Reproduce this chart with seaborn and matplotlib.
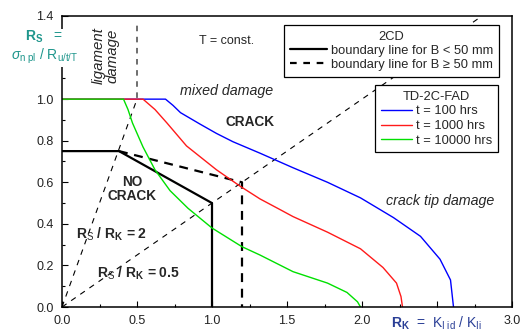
import matplotlib
matplotlib.use("Agg")
import matplotlib.pyplot as plt
from matplotlib.lines import Line2D
from matplotlib.ticker import MultipleLocator
import seaborn as sns

# TD-2C-FAD curves (R_K, R_S)
rk_100 = [0.0, 0.69, 0.74, 0.79, 0.92, 1.03, 1.14, 1.32, 1.54, 1.77, 1.99, 2.21, 2.39, 2.52, 2.59, 2.61]
rs_100 = [1.0, 1.0, 0.97, 0.935, 0.88, 0.835, 0.795, 0.74, 0.67, 0.60, 0.525, 0.43, 0.34, 0.23, 0.13, 0.0]

rk_1000 = [0.0, 0.54, 0.62, 0.70, 0.83, 1.03, 1.12, 1.19, 1.32, 1.45, 1.54, 1.77, 1.99, 2.14, 2.23, 2.26, 2.27]
rs_1000 = [1.0, 1.0, 0.95, 0.885, 0.775, 0.66, 0.615, 0.58, 0.52, 0.47, 0.435, 0.36, 0.28, 0.19, 0.115, 0.05, 0.0]

rk_10000 = [0.0, 0.41, 0.44, 0.47, 0.54, 0.62, 0.72, 0.84, 1.0, 1.2, 1.32, 1.54, 1.77, 1.90, 1.97, 1.99]
rs_10000 = [1.0, 1.0, 0.95, 0.885, 0.77, 0.66, 0.56, 0.475, 0.38, 0.29, 0.25, 0.17, 0.115, 0.07, 0.025, 0.0]

# 2CD boundary lines
rk_small = [0.0, 0.38, 1.0, 1.0]
rs_small = [0.75, 0.75, 0.5, 0.0]
rk_large = [0.38, 1.2, 1.2]
rs_large = [0.75, 0.6, 0.0]

# ratio lines R_S / R_K
rk_ratio2 = [0.0, 0.5, 0.5]
rs_ratio2 = [0.0, 1.0, 1.36]
rk_ratio05 = [0.0, 2.8]
rs_ratio05 = [0.0, 1.4]

x_ticks = [0.0, 0.5, 1.0, 1.5, 2.0, 2.5, 3.0]
x_labels = ["0.0", "0.5", "1.0", "1.5", "2.0", "", "3.0"]
y_ticks = [0.0, 0.2, 0.4, 0.6, 0.8, 1.0, 1.2, 1.4]
y_labels = ["0.0", "0.2", "0.4", "0.6", "0.8", "1.0", "", "1.4"]

sns.set_theme(style="ticks")
plt.rcParams["font.family"] = ["Liberation Sans", "DejaVu Sans"]
plt.rcParams["mathtext.fontset"] = "custom"
plt.rcParams["mathtext.rm"] = "Liberation Sans"
plt.rcParams["mathtext.bf"] = "Liberation Sans:bold"
plt.rcParams["mathtext.it"] = "Liberation Sans:italic"

fig = plt.figure(figsize=(5.22, 3.33), dpi=100)
ax = fig.add_axes([62 / 522, 26 / 333, 450 / 522, 291 / 333])

fs = 9
leg_fs = 9.3

# ratio lines
ax.plot(rk_ratio2, rs_ratio2, color="black", lw=0.8, dashes=(5, 5))
ax.plot(rk_ratio05, rs_ratio05, color="black", lw=0.8, dashes=(5, 5))

# boundary lines
ax.plot(rk_small, rs_small, color="black", lw=1.6)
ax.plot(rk_large, rs_large, color="black", lw=1.6, dashes=(4, 3))

# FAD curves
sns.lineplot(x=rk_100, y=rs_100, color="#0000ff", lw=1.0, sort=False, estimator=None, ax=ax)
sns.lineplot(x=rk_1000, y=rs_1000, color="#ff1a1a", lw=1.0, sort=False, estimator=None, ax=ax)
sns.lineplot(x=rk_10000, y=rs_10000, color="#00e000", lw=1.0, sort=False, estimator=None, ax=ax)

ax.set_xlim(0, 3.0)
ax.set_ylim(0, 1.4)
ax.set_xticks(x_ticks)
ax.set_xticklabels(x_labels)
ax.set_yticks(y_ticks)
ax.set_yticklabels(y_labels)
ax.xaxis.set_minor_locator(MultipleLocator(0.25))
ax.yaxis.set_minor_locator(MultipleLocator(0.1))
ax.tick_params(which="both", direction="in", width=0.8, colors="black", labelcolor="#222222",
               labelsize=fs, pad=6)
ax.tick_params(which="major", length=4)
ax.tick_params(which="minor", length=2.5)
for sp in ax.spines.values():
    sp.set_color("black")
    sp.set_linewidth(1.1)
ax.set_xlabel("")
ax.set_ylabel("")

# legends
h1 = [Line2D([], [], color="black", lw=1.6),
      Line2D([], [], color="black", lw=1.6, dashes=(3, 3))]
leg1 = ax.legend(h1, ["boundary line for B < 50 mm", "boundary line for B \u2265 50 mm"],
                 title="2CD", loc="upper right", bbox_to_anchor=(0.971, 0.969),
                 fontsize=leg_fs, title_fontsize=leg_fs, frameon=True, fancybox=False,
                 edgecolor="black", framealpha=1, handlelength=2.9, handletextpad=0.3,
                 labelspacing=0.15, borderpad=0.45, borderaxespad=0)
leg1.get_frame().set_linewidth(0.9)
ax.add_artist(leg1)

h2 = [Line2D([], [], color="#0000ff", lw=1.0),
      Line2D([], [], color="#ff1a1a", lw=1.0),
      Line2D([], [], color="#00e000", lw=1.0)]
leg2 = ax.legend(h2, ["t = 100 hrs", "t = 1000 hrs", "t = 10000 hrs"],
                 title="TD-2C-FAD", loc="upper right", bbox_to_anchor=(0.969, 0.763),
                 fontsize=leg_fs, title_fontsize=leg_fs, frameon=True, fancybox=False,
                 edgecolor="black", framealpha=1, handlelength=2.4, handletextpad=0.3,
                 labelspacing=0.2, borderpad=0.45, borderaxespad=0)
leg2.get_frame().set_linewidth(0.9)

# annotations
ax.text(1.1, 1.28, "T = const.", fontsize=fs, ha="center", va="center")
ax.text(1.1, 1.04, "mixed damage", fontsize=10.3, style="italic", ha="center", va="center")
ax.text(1.25, 0.89, "CRACK", fontsize=9.8, weight="bold", ha="center", va="center")
ax.text(2.52, 0.51, "crack tip damage", fontsize=10.3, style="italic", ha="center", va="center")
ax.text(0.29, 1.21, "ligament\ndamage", fontsize=10.8, style="italic", rotation=90,
        ha="center", va="center", linespacing=0.95)
ax.text(0.47, 0.567, "NO\nCRACK", fontsize=9.8, weight="bold", ha="center", va="center",
        linespacing=1.0)
ax.text(0.33, 0.35, r"R$_{\mathrm{S}}$ / R$_{\mathbf{K}}$ = 2", fontsize=10, weight="bold",
        ha="center", va="center")
ax.text(0.51, 0.16, r"R$_{\mathrm{S}}$ / R$_{\mathbf{K}}$ = 0.5", fontsize=10, weight="bold",
        ha="center", va="center")

# axis labels
teal = "#1f968c"
navy = "#2a3f96"
ax.text(-0.118, 1.25, r"$\mathbf{R_S}$   =" + "\n" + r"$\sigma_{\mathrm{n\ pl}}$ / R$_{\mathrm{u/t/T}}$",
        fontsize=10, color=teal, ha="center", va="center", multialignment="center",
        linespacing=1.1, clip_on=False, bbox=dict(facecolor="white", edgecolor="none", pad=1))
ax.text(2.5, -0.078, r"$\mathbf{R_K}$  =  K$_{\mathrm{I\ id}}$ / K$_{\mathrm{Ii}}$", fontsize=10,
        color=navy, ha="center", va="center", clip_on=False)

fig.savefig("out.png", dpi=100)
